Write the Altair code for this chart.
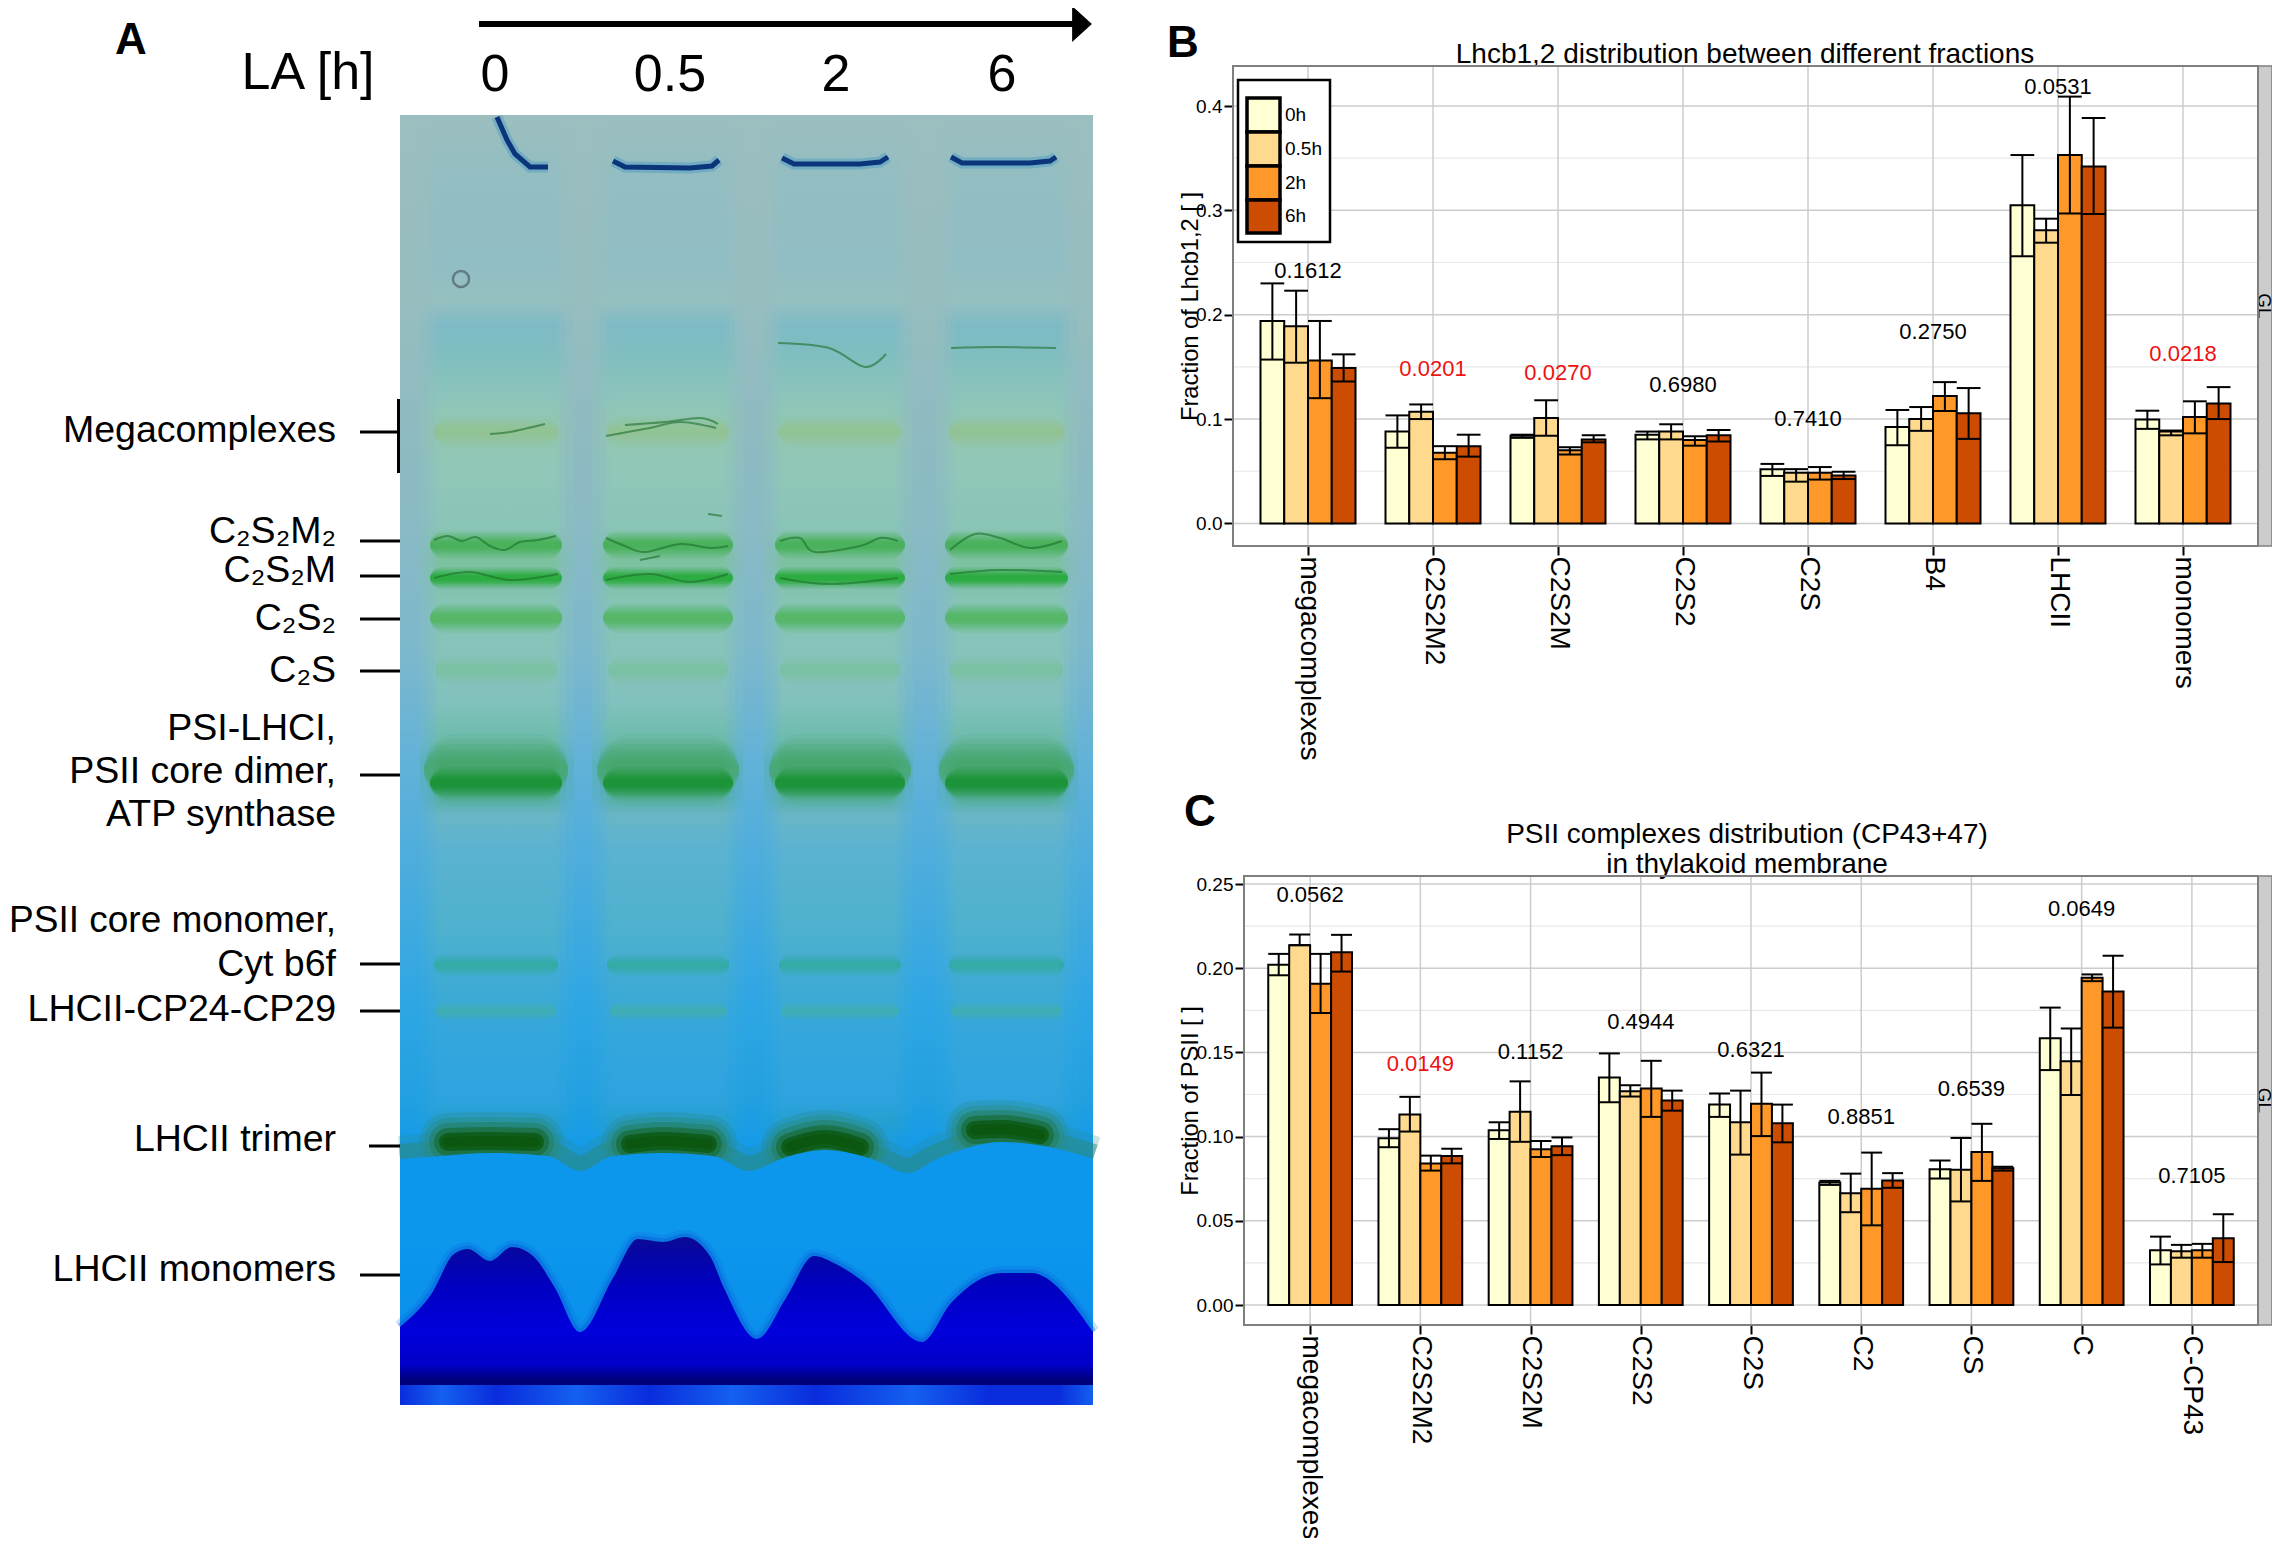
import altair as alt
import pandas as pd

FONT = "Liberation Sans"
SERIES = ["0h", "0.5h", "2h", "6h"]
SERIES_COLORS = ["#FFFFD4", "#FED98E", "#FE9929", "#CC4C02"]

B_CATS = ["megacomplexes", "C2S2M2", "C2S2M", "C2S2", "C2S", "B4", "LHCII", "monomers"]
B_MEAN_0 = [.194, .088, .084, .085, .052, .0925, .305, .0996]
B_MEAN_1 = [.189, .107, .101, .088, .0485, .100, .281, .088]
B_MEAN_2 = [.156, .0677, .070, .080, .0485, .122, .353, .102]
B_MEAN_3 = [.149, .074, .0805, .0845, .046, .1055, .342, .115]
B_HI_0 = [.230, .1035, .085, .088, .057, .1087, .353, .108]
B_HI_1 = [.223, .114, .118, .095, .052, .1115, .292, .089]
B_HI_2 = [.194, .074, .073, .0835, .054, .1354, .409, .117]
B_HI_3 = [.162, .085, .0845, .0895, .0495, .1297, .3885, .1306]
B_LO_0 = [.157, .0725, .082, .0805, .0455, .0749, .256, .0906]
B_LO_1 = [.154, .100, .084, .0805, .040, .0887, .269, .0844]
B_LO_2 = [.120, .0615, .066, .0745, .042, .1077, .297, .0863]
B_LO_3 = [.136, .064, .0777, .0785, .0425, .081, .2965, .100]
B_P = [.1612, .0201, .0270, .6980, .7410, .2750, .0531, .0218]
B_P_Y = [.2417, .148, .1445, .133, .0996, .183, .418, .162]

C_CATS = ["megacomplexes", "C2S2M2", "C2S2M", "C2S2", "C2S", "C2", "CS", "C", "C-CP43"]
C_MEAN_0 = [.202, .099, .1038, .1351, .119, .0728, .0806, .1584, .0325]
C_MEAN_1 = [.2137, .1131, .1148, .127, .1085, .0664, .0803, .1447, .0319]
C_MEAN_2 = [.1908, .0841, .0925, .1285, .1195, .069, .0908, .1943, .0325]
C_MEAN_3 = [.2094, .0885, .0943, .1215, .1079, .074, .0812, .1862, .0397]
C_HI_0 = [.2085, .1044, .1085, .1494, .1256, .0737, .0858, .1766, .0406]
C_HI_1 = [.220, .1236, .1328, .1305, .1273, .078, .0992, .1642, .0357]
C_HI_2 = [.2085, .0887, .0974, .145, .138, .0905, .1076, .1963, .0363]
C_HI_3 = [.2198, .0928, .0995, .1273, .119, .0783, .0821, .2074, .0539]
C_LO_0 = [.1958, .0937, .0986, .1204, .1117, .0713, .0751, .1395, .0241]
C_LO_1 = [.2137, .103, .0969, .1238, .0893, .0551, .0615, .1247, .0281]
C_LO_2 = [.1734, .0798, .0879, .1117, .1003, .0473, .0737, .1923, .0281]
C_LO_3 = [.198, .0841, .089, .1154, .0966, .0696, .0798, .1647, .0255]
C_P = [.0562, .0149, .1152, .4944, .6321, .8851, .6539, .0649, .7105]
C_P_Y = [.2433, .143, .150, .1682, .1517, .1117, .1282, .2349, .0769]

# ---- gel image approximation (in page pixels of the reference) ----
GEL_TOP, GEL_BOTTOM, GEL_LEFT, GEL_RIGHT = 115, 1405, 400, 1093
GAP_Y = [115, 300, 400, 520, 650, 760, 900, 1000, 1100, 1165, 1240, 1330, 1405]
GAP_C = ["#9CBEBF", "#97BDBF", "#90BBC0", "#8ABAC4", "#7DB8CC", "#62B2D8", "#45ABDE", "#2FA6E4",
         "#22A0E0", "#0E98EC", "#0C96EC", "#0A90EC", "#0B3FD8"]
LANE_Y = [115, 175, 265, 300, 325, 355, 400, 430, 470, 525, 560, 600, 650, 700, 740, 765, 800, 815,
          850, 925, 985, 1030, 1100, 1120, 1165, 1240, 1405]
LANE_C = ["#9CBEBF", "#92BDC2", "#90BEC4", "#96C0C0", "#7CBAC6", "#7EBEC0", "#8DC6BA", "#92C8AC", "#90C8B8",
          "#8AC6B6", "#7CC29C", "#86C4B2", "#88C4B8", "#84C2BC", "#6DBCA8", "#4AA878", "#58AFA4", "#6BB6C4",
          "#5BB3D0", "#50B2CC", "#40ABD2", "#35A7DC", "#2EA3DE", "#26A0CE", "#0E98EC", "#0C96EC", "#0B3FD8"]
LANES = [(438, 556), (610, 725), (782, 895), (955, 1060)]
BAND_SPANS = [(430, 562), (603, 733), (775, 905), (945, 1068)]
BAND_Y = [770, 783, 432, 545, 578, 618, 670, 965, 1011]
BAND_W = [74, 32, 32, 28, 22, 30, 30, 22, 20]
BAND_C = ["#46A868", "#12902C", "#94C48C", "#3FAD4C", "#1BA82A", "#4DB558", "#78C29C", "#30AC9C", "#44B2A4"]
BAND_O = [.85, 1, .7, 1, 1, 1, .75, .9, .7]
BAND_INSET = [-6, 0, 4, 0, 0, 0, 5, 4, 6]
SOFT_F = [1, .85, .7, .55, .4, .25]
SOFT_K = [.12, .16, .2, .26, .32, .38]
WELL_SEGS = [[(497, 117), (507, 140), (515, 154), (530, 167), (548, 167)],
             [(613, 161), (625, 167), (690, 168), (712, 166), (719, 160)],
             [(782, 158), (794, 164), (860, 164), (880, 162), (888, 157)],
             [(951, 157), (962, 163), (1030, 163), (1050, 161), (1056, 157)]]
WIGGLES = [[(434, 540), (448, 536), (462, 541), (476, 537), (490, 546), (505, 550), (520, 542), (538, 540), (556, 536)],
           [(434, 578), (470, 572), (510, 580), (558, 574)],
           [(606, 538), (625, 546), (645, 552), (680, 544), (710, 548), (728, 546)],
           [(606, 580), (650, 574), (690, 582), (728, 574)],
           [(780, 541), (800, 538), (815, 552), (860, 546), (880, 538), (898, 541)], [(780, 578), (830, 584), (898, 578)],
           [(950, 550), (975, 534), (1000, 538), (1030, 548), (1062, 541)], [(950, 574), (1000, 570), (1062, 572)],
           [(778, 343), (829, 348), (865, 367), (886, 354)], [(951, 348), (1000, 347), (1056, 348)],
           [(606, 436), (650, 428), (680, 422), (716, 428)], [(490, 434), (510, 432), (545, 424)],
           [(625, 425), (665, 422), (700, 418), (718, 424)], [(640, 560), (660, 556)], [(708, 514), (722, 516)]]
TRIMER_EDGE = [(400, 1159), (440, 1156), (490, 1153), (548, 1156), (580, 1171), (613, 1156), (663, 1153), (713, 1156),
               (749, 1171), (786, 1157), (825, 1150), (872, 1159), (908, 1173), (937, 1159), (1002, 1142), (1059, 1149),
               (1093, 1159)]
TRIMER_ARCS = [[(448, 1142), (490, 1141), (535, 1142)], [(630, 1144), (663, 1141), (708, 1144)],
               [(790, 1147), (825, 1139), (860, 1147)], [(975, 1130), (1002, 1129), (1040, 1135)]]
MOUNTAINS = [(400, 1327), (432, 1293), (454, 1254), (468, 1249), (490, 1261), (512, 1247), (533, 1256), (555, 1288),
             (580, 1332), (613, 1278), (638, 1239), (663, 1242), (685, 1237), (710, 1256), (724, 1288), (757, 1339),
             (786, 1298), (814, 1256), (836, 1264), (865, 1283), (922, 1342), (951, 1303), (1002, 1273), (1031, 1273),
             (1093, 1332)]

GEL_LABELS = ["Megacomplexes", "C₂S₂M₂", "C₂S₂M", "C₂S₂", "C₂S", "PSI-LHCI,", "PSII core dimer,", "ATP synthase",
              "Cyt b6f", "LHCII-CP24-CP29", "LHCII trimer", "LHCII monomers"]
GEL_LABEL_Y = [431, 532, 571, 619, 671, 729, 772, 815, 965, 1010, 1140, 1270]
TICK_Y = [432, 541, 576, 619, 671, 775, 964, 1011, 1146, 1275]
TICK_X0 = [360, 360, 360, 360, 360, 360, 360, 360, 369, 360]
TIME_LABELS = ["0", "0.5", "2", "6"]
TIME_X = [495, 670, 836, 1002]


def gradient(ys, cs):
    span = ys[-1] - ys[0]
    return alt.LinearGradient(gradient="linear", x1=0, y1=0, x2=0, y2=1,
                              stops=[alt.GradientStop(color=c, offset=(y - ys[0]) / span) for y, c in zip(ys, cs)])


PX = alt.Scale(domain=[0, 2280], range=[-8, 2272], nice=False, zero=False)
PY = alt.Scale(domain=[0, 1546], range=[-8, 1538], nice=False, zero=False)
X = alt.X("x:Q", scale=PX, axis=None)
Y = alt.Y("y:Q", scale=PY, axis=None)


def rect(x, x2, y, y2, **mk):
    d = pd.DataFrame({"x": [x], "x2": [x2], "y": [y], "y2": [y2]})
    return alt.Chart(d).mark_rect(**mk).encode(x=X, x2="x2:Q", y=Y, y2="y2:Q")


def rules(rows, **mk):
    d = pd.DataFrame(rows, columns=["x", "x2", "y", "y2"])
    return alt.Chart(d).mark_rule(**mk).encode(x=X, x2="x2:Q", y=Y, y2="y2:Q")


def hrules(rows, **mk):
    d = pd.DataFrame(rows, columns=["x", "x2", "y"])
    return alt.Chart(d).mark_rule(**mk).encode(x=X, x2="x2:Q", y=Y)


def line(pts, **mk):
    d = pd.DataFrame([{"x": a, "y": b, "i": i} for i, (a, b) in enumerate(pts)])
    return alt.Chart(d).mark_line(**mk).encode(x=X, y=Y, order="i:Q")


def text(labels, xs, ys, size, align="center", **mk):
    d = pd.DataFrame({"t": labels, "x": xs, "y": ys})
    return alt.Chart(d).mark_text(font=FONT, fontSize=size, align=align, baseline="middle", color="black", **mk).encode(
        x=X, y=Y, text="t:N")


page = []
# gel background and lanes
page.append(rect(GEL_LEFT, GEL_RIGHT, GEL_TOP, GEL_BOTTOM, color=gradient(GAP_Y, GAP_C)))
for grow, op in [(18, .25), (10, .35), (4, .5), (0, .7)]:
    for a, b in LANES:
        page.append(rect(a - grow, b + grow, GEL_TOP, 1240, color=gradient(LANE_Y[:-1], LANE_C[:-1]), opacity=op))
# bands, each built of nested soft strokes
for y, w, c, o, ins in zip(BAND_Y, BAND_W, BAND_C, BAND_O, BAND_INSET):
    for f, k in zip(SOFT_F, SOFT_K):
        page.append(hrules([(a + ins + w * f / 2, b - ins - w * f / 2, y) for a, b in BAND_SPANS], stroke=c, strokeWidth=w * f, opacity=o * k, strokeCap="round"))
for seg in WIGGLES:
    page.append(line(seg, stroke="#1A6E2A", strokeWidth=2, opacity=.6, interpolate="cardinal"))
for seg in WELL_SEGS:
    page.append(line(seg, stroke="#3F93C4", strokeWidth=11, opacity=.4))
    page.append(line(seg, stroke="#0A357A", strokeWidth=5))
# trimer: soft arcs, a green rim along the lower edge, then the bright blue zone that cuts them off
page.append(line(TRIMER_EDGE, stroke="#2A8A90", strokeWidth=46, opacity=.25, interpolate="monotone"))
page.append(line(TRIMER_EDGE, stroke="#2A8A78", strokeWidth=30, opacity=.5, interpolate="monotone"))
for seg in TRIMER_ARCS:
    for w, c, o in [(58, "#2C8A84", .28), (48, "#2A8A70", .35), (38, "#237A50", .45), (28, "#18682C", .6), (18, "#0A5408", .7), (10, "#0A5408", .6)]:
        page.append(line(seg, stroke=c, strokeWidth=w, opacity=o, interpolate="monotone", strokeCap="round"))
t = pd.DataFrame({"x": [p[0] for p in TRIMER_EDGE], "y": [p[1] for p in TRIMER_EDGE], "y2": [1240] * len(TRIMER_EDGE)})
page.append(alt.Chart(t).mark_area(interpolate="monotone", color="#0D97EC").encode(x=X, y=Y, y2="y2:Q"))
# blue mountains
m = pd.DataFrame({"x": [p[0] for p in MOUNTAINS], "y": [p[1] for p in MOUNTAINS], "y2": [1385] * len(MOUNTAINS)})
page.append(line(MOUNTAINS, stroke="#0A60E0", strokeWidth=14, opacity=.2, interpolate="monotone"))
page.append(line(MOUNTAINS, stroke="#0A48D8", strokeWidth=7, opacity=.3, interpolate="monotone"))
page.append(alt.Chart(m).mark_area(interpolate="monotone", color=gradient([1237, 1285, 1330, 1365, 1380, 1385], ["#0A0A96", "#0000C0", "#0000DC", "#0000C8", "#00007A", "#00007A"])).encode(x=X, y=Y, y2="y2:Q"))
page.append(rect(GEL_LEFT, GEL_RIGHT, 1385, GEL_BOTTOM, color=alt.LinearGradient(
    gradient="linear", x1=0, y1=0, x2=1, y2=0,
    stops=[alt.GradientStop(color=c, offset=o) for c, o in [("#0A2CDC", 0), ("#1460F0", .06), ("#0A2CDC", .14), ("#1460F0", .255),
                                                           ("#0A2CDC", .36), ("#1460F0", .48), ("#0A2CDC", .6), ("#1460F0", .74), ("#0A2CDC", .85), ("#0A2CDC", .95), ("#1460F0", 1)]])))
# air bubble
page.append(alt.Chart(pd.DataFrame({"x": [461], "y": [279]})).mark_point(size=260, stroke="#4D5F66", strokeWidth=2.5, fill=None, shape="circle").encode(x=X, y=Y))
# annotation
page.append(hrules([(x0, 400, y) for x0, y in zip(TICK_X0, TICK_Y)], stroke="black", strokeWidth=3))
page.append(rules([(398.5, 398.5, 399, 473)], stroke="black", strokeWidth=3))
page.append(text(GEL_LABELS, [336] * len(GEL_LABELS), GEL_LABEL_Y, 37.5, align="right"))
page.append(text(["PSII core monomer,"], [336], [921], 37, align="right"))
page.append(text(["LA [h]"], [308], [73], 52))
page.append(text(TIME_LABELS, TIME_X, [75] * 4, 52))
page.append(hrules([(479, 1076, 24)], stroke="black", strokeWidth=6))
page.append(alt.Chart(pd.DataFrame({"x": [1082], "y": [24]})).mark_point(shape="M -0.55 -1 L 0.55 0 L -0.55 1 Z", size=1296, filled=True, color="black", opacity=1).encode(x=X, y=Y))
page.append(text(["A"], [131], [41], 44, fontWeight="bold"))
page.append(text(["B"], [1183], [44], 44, fontWeight="bold"))
page.append(text(["C"], [1200], [813], 44, fontWeight="bold"))
# titles
page.append(text(["Lhcb1,2 distribution between different fractions"], [1745], [55], 28))
page.append(text(["PSII complexes distribution (CP43+47)"], [1747], [835], 28))
page.append(text(["in thylakoid membrane"], [1747], [865], 28))
# strips
for top, bot, left in [(66, 546, 1233), (876, 1325, 1244)]:
    page.append(rect(2258, 2272, top, bot, fill="#CCCCCC", stroke="#7F7F7F", strokeWidth=1.5))
    page.append(text(["GL"], [2264], [(top + bot) / 2], 19, angle=90))


def panel(cats, means, his, los, ps, p_y, left, right, top, bottom, y0, y_unit, ymajor, yminor, fmt, ytitle):
    n = len(cats)
    ptop = (y0 - top) / y_unit
    pbot = (y0 - bottom) / y_unit
    sx = alt.Scale(domain=[0.4, n + 0.6], range=[left - 8, right - 8], nice=False, zero=False)
    sy = alt.Scale(domain=[pbot, ptop], range=[bottom - 8, top - 8], nice=False, zero=False)
    rows = []
    for s, (name, mean, hi, lo) in enumerate(zip(SERIES, means, his, los)):
        for i in range(n):
            c = i + 1 + (s - 1.5) * 0.19
            rows.append(dict(series=name, x0=c - .095, x1=c + .095, xc=c, v=mean[i], hi=hi[i], lo=lo[i], base=0))
    df = pd.DataFrame(rows)
    expr = "[" + ",".join(f"'{c}'" for c in cats) + "][datum.value-1]"
    xaxis = alt.Axis(orient="bottom", values=list(range(1, n + 1)), labelExpr=expr, labelAngle=90, labelAlign="left", labelBaseline="middle",
                     labelFont=FONT, labelFontSize=28, labelColor="black", labelPadding=1, labelFlush=False, labelBound=False, labelLimit=400,
                     labelOverlap=False, tickSize=9, tickWidth=2, tickColor="black", domain=False, grid=False, title=None,
                     offset=-(1530 - (bottom - 8)))
    yaxis = alt.Axis(orient="left", values=ymajor, format=fmt, labelFont=FONT, labelFontSize=19, labelColor="black", labelPadding=2, tickSize=9,
                     tickWidth=2, tickColor="black", domain=False, grid=False, title=ytitle, titleFont=FONT, titleFontSize=23.7,
                     titleFontWeight="normal", titleColor="black", titleAngle=-90, titleBaseline="middle", titleAlign="center",
                     titleX=1190 - left, titleY=(top + bottom) / 2 - 8, labelOverlap=False, offset=-(left - 8), labelFlush=False, labelBound=False)

    gridrows = pd.DataFrame({"g": yminor})
    gm = alt.Chart(pd.DataFrame({"g": ymajor})).mark_rule(stroke="#CCCCCC", strokeWidth=1.5).encode(
        x=alt.value(left - 8), x2=alt.value(right - 8), y=alt.Y("g:Q", scale=sy, axis=None))
    gn = alt.Chart(gridrows).mark_rule(stroke="#E8E8E8", strokeWidth=1.2).encode(
        x=alt.value(left - 8), x2=alt.value(right - 8), y=alt.Y("g:Q", scale=sy, axis=None))
    gv = alt.Chart(pd.DataFrame({"c": list(range(1, n + 1))})).mark_rule(stroke="#CCCCCC", strokeWidth=1.5).encode(
        x=alt.X("c:Q", scale=sx, axis=None), y=alt.value(top - 8), y2=alt.value(bottom - 8))
    frame = alt.Chart(pd.DataFrame({"a": [0]})).mark_rect(fill=None, stroke="#7F7F7F", strokeWidth=2).encode(
        x=alt.value(left - 8), x2=alt.value(right - 8), y=alt.value(top - 8), y2=alt.value(bottom - 8))
    bars = alt.Chart(df).mark_rect(stroke="black", strokeWidth=2).encode(
        x=alt.X("x0:Q", scale=sx, axis=xaxis), x2="x1:Q",
        y=alt.Y("v:Q", scale=sy, axis=yaxis), y2="base:Q",
        color=alt.Color("series:N", scale=alt.Scale(domain=SERIES, range=SERIES_COLORS), legend=None))
    stem = alt.Chart(df).mark_rule(stroke="black", strokeWidth=2).encode(
        x=alt.X("xc:Q", scale=sx, axis=None), y=alt.Y("lo:Q", scale=sy, axis=None), y2="hi:Q")
    cap_hi = alt.Chart(df).mark_rule(stroke="black", strokeWidth=2).encode(
        x=alt.X("x0:Q", scale=sx, axis=None), x2="x1:Q", y=alt.Y("hi:Q", scale=sy, axis=None))
    cap_lo = alt.Chart(df).mark_rule(stroke="black", strokeWidth=2).encode(
        x=alt.X("x0:Q", scale=sx, axis=None), x2="x1:Q", y=alt.Y("lo:Q", scale=sy, axis=None))
    pv = pd.DataFrame({"c": list(range(1, n + 1)), "p": ps, "py": p_y})
    labels = alt.Chart(pv).mark_text(font=FONT, fontSize=22, baseline="middle").encode(
        x=alt.X("c:Q", scale=sx, axis=None), y=alt.Y("py:Q", scale=sy, axis=None),
        text=alt.Text("p:Q", format=".4f"),
        color=alt.condition("datum.p < 0.05", alt.value("#EE1111"), alt.value("black")))
    return [gn, gm, gv, frame, bars, stem, cap_hi, cap_lo, labels]


panel_b = panel(B_CATS, [B_MEAN_0, B_MEAN_1, B_MEAN_2, B_MEAN_3], [B_HI_0, B_HI_1, B_HI_2, B_HI_3], [B_LO_0, B_LO_1, B_LO_2, B_LO_3],
                B_P, B_P_Y, 1233, 2258, 66, 546, 523.4, 1043.5, [0, .1, .2, .3, .4], [.05, .15, .25, .35], ".1f", "Fraction of Lhcb1,2 [ ]")
panel_c = panel(C_CATS, [C_MEAN_0, C_MEAN_1, C_MEAN_2, C_MEAN_3], [C_HI_0, C_HI_1, C_HI_2, C_HI_3], [C_LO_0, C_LO_1, C_LO_2, C_LO_3],
                C_P, C_P_Y, 1244, 2258, 876, 1325, 1305, 1684, [0, .05, .1, .15, .2, .25], [.025, .075, .125, .175, .225], ".2f", "Fraction of PSII [ ]")

# legend of panel B
legend = [rect(1238, 1330, 80, 242, fill="white", stroke="black", strokeWidth=2.5)]
key_df = pd.DataFrame({"x": [1247] * 4, "x2": [1280] * 4, "y": [98, 132, 166, 200], "y2": [132, 166, 200, 233], "series": SERIES})
legend.append(alt.Chart(key_df).mark_rect(stroke="black", strokeWidth=3.5).encode(
    x=X, x2="x2:Q", y=Y, y2="y2:Q", color=alt.Color("series:N", scale=alt.Scale(domain=SERIES, range=SERIES_COLORS), legend=None)))
legend.append(text(SERIES, [1285] * 4, [115, 149, 183, 216], 19, align="left"))

chart = alt.layer(*page, *panel_b, *legend, *panel_c).resolve_scale(x="independent", y="independent").properties(
    width=2264, height=1530, padding=0, autosize=alt.AutoSizeParams(type="none"), background="white"
).configure_view(stroke=None)

chart.save("out.html", embed_options={"renderer": "svg", "actions": False})
